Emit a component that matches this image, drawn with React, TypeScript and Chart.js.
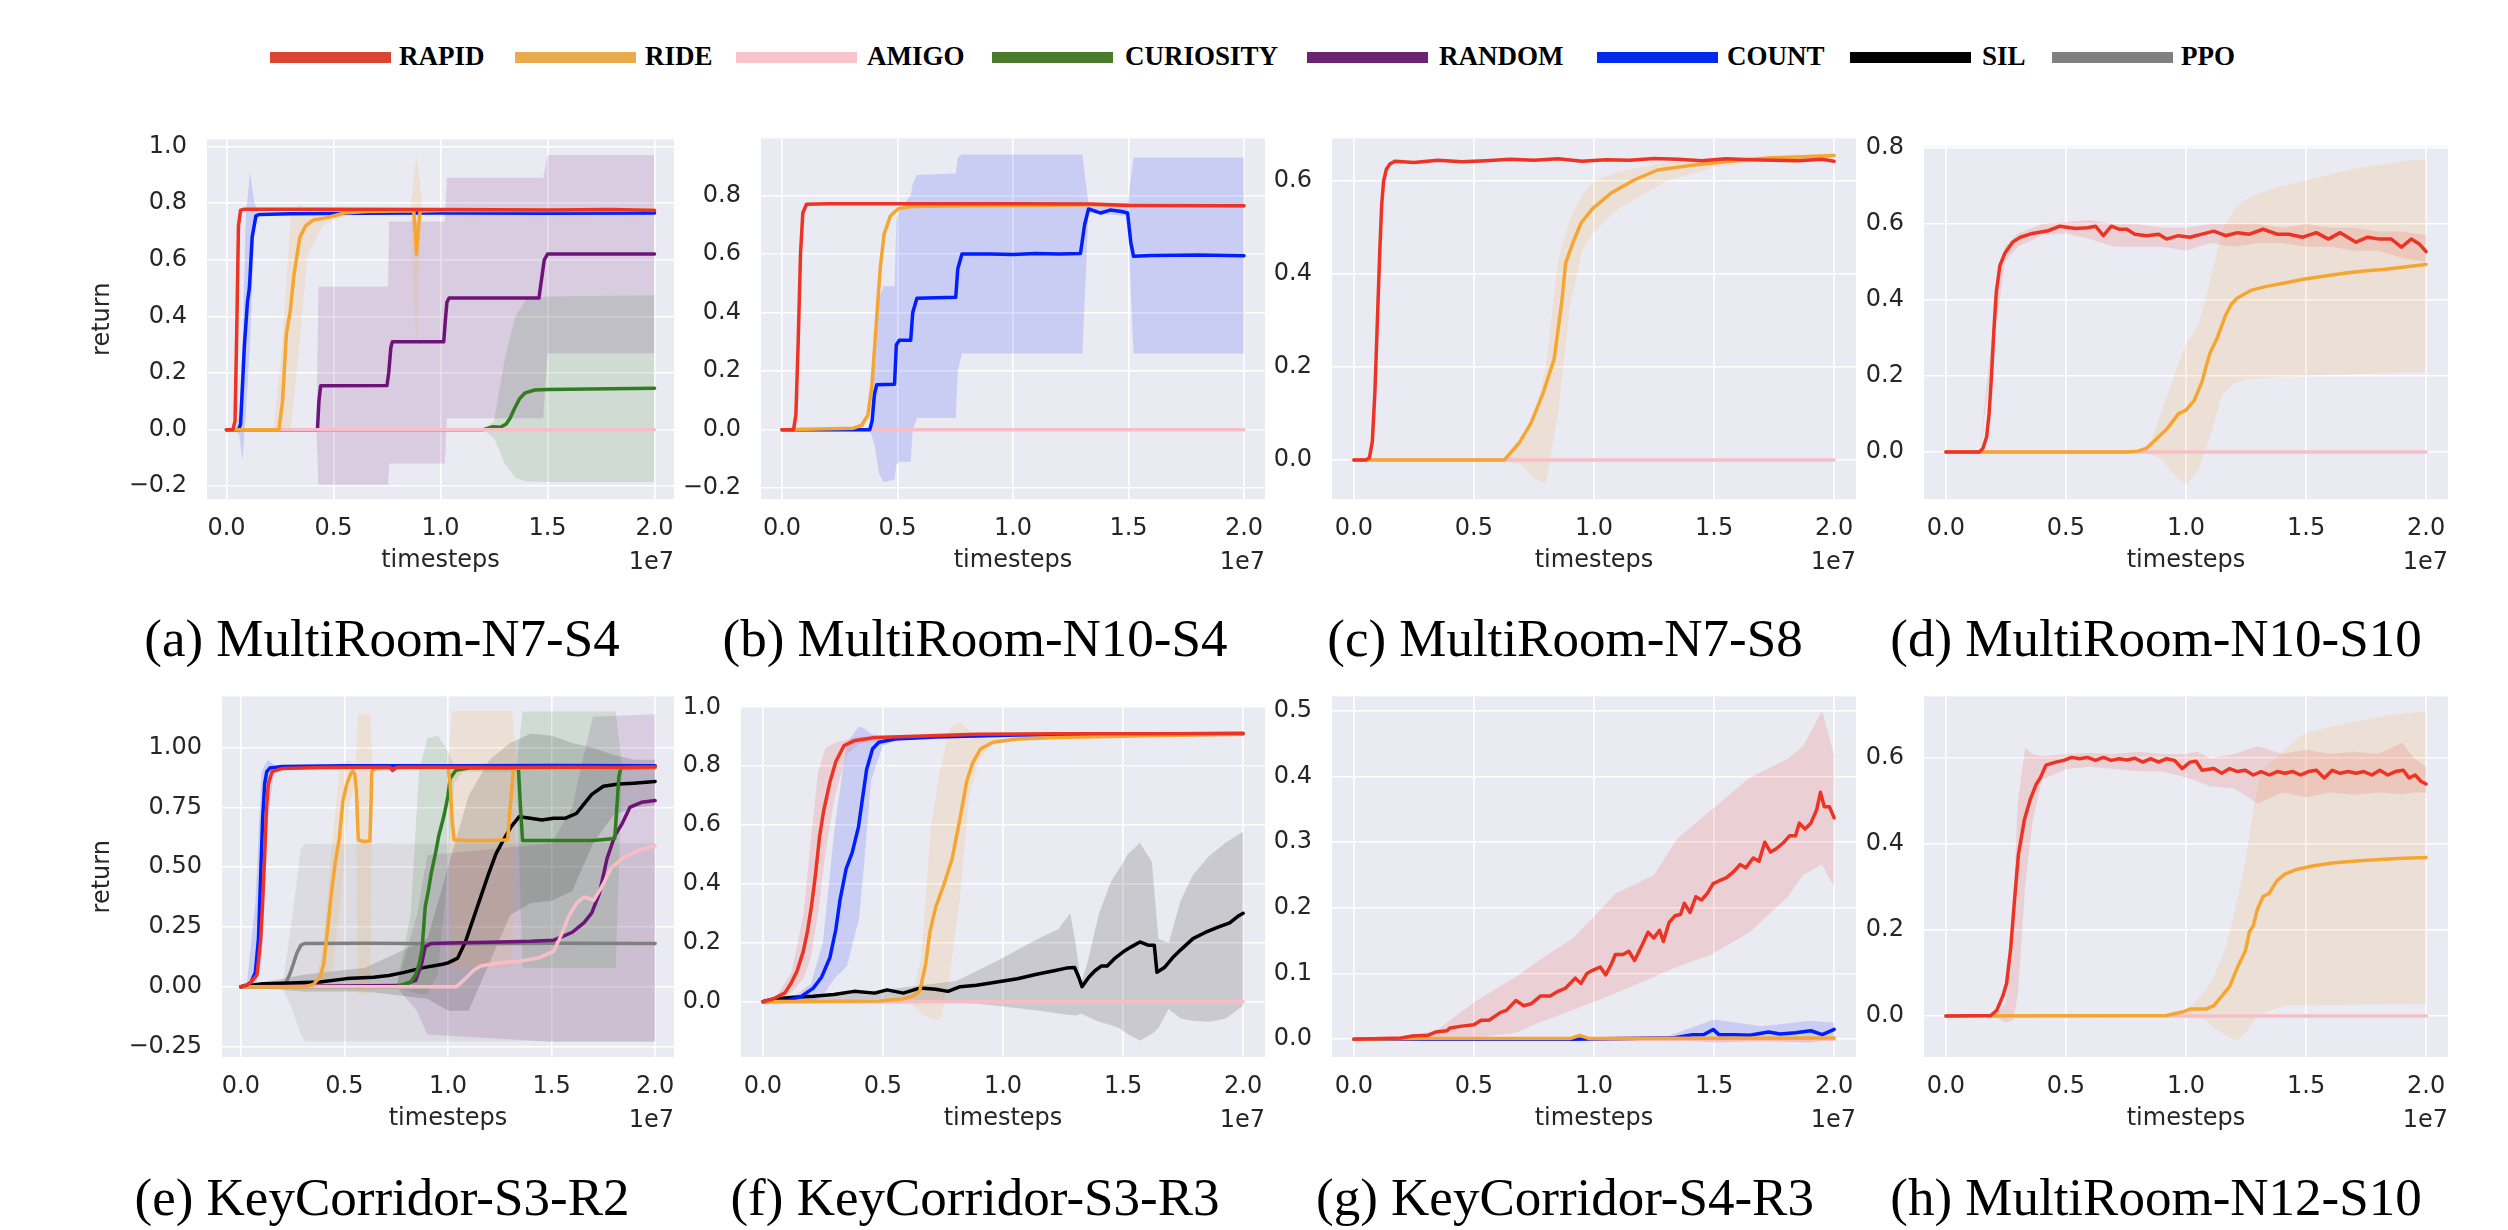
import React, { useEffect, useRef } from "react";
import { Chart, registerables } from "chart.js";

Chart.register(...registerables);

// ---------------- shared axis values ----------------
const xTicks = [0, 0.5, 1, 1.5, 2];
const xTickLabels = ["0.0", "0.5", "1.0", "1.5", "2.0"];
const X_MIN = -0.091;
const X_MAX = 2.091;

// ---------------- legend ----------------
const legendLabels = ["RAPID", "RIDE", "AMIGO", "CURIOSITY", "RANDOM", "COUNT", "SIL", "PPO"];
const legendColors = ["#DB4433", "#EAAA4E", "#F7C3CC", "#4B7A2F", "#6B2570", "#002BEA", "#000000", "#808080"];

const lineColors: Record<string, string> = {
  RAPID: "#ED3324",
  RIDE: "#F5A632",
  AMIGO: "#F8BEC8",
  CURIOSITY: "#2E7D1E",
  RANDOM: "#6E1478",
  COUNT: "#001EFF",
  SIL: "#000000",
  PPO: "#808080",
};

const zeroX = [0, 2.0];
const zeroY = [0, 0];

// ---------------- (a) MultiRoom-N7-S4 ----------------
const aYTicks = [-0.2, 0, 0.2, 0.4, 0.6, 0.8, 1.0];
const aYLabels = ["\u22120.2", "0.0", "0.2", "0.4", "0.6", "0.8", "1.0"];
const aRapidX = [0, 0.03, 0.04, 0.048, 0.056, 0.066, 0.08, 0.5, 1.0, 1.5, 1.8, 2.0];
const aRapidY = [0, 0, 0.03, 0.35, 0.72, 0.775, 0.778, 0.778, 0.777, 0.776, 0.777, 0.774];
const aCountX = [0, 0.057, 0.066, 0.084, 0.098, 0.107, 0.12, 0.1375, 0.155, 0.3, 0.6, 1.0, 1.5, 2.0];
const aCountY = [0, 0, 0.02, 0.3, 0.45, 0.5, 0.68, 0.755, 0.76, 0.762, 0.764, 0.765, 0.764, 0.765];
const aCountBandX = [0.04, 0.06, 0.075, 0.09, 0.11, 0.13, 0.15];
const aCountHi = [0, 0.05, 0.3, 0.75, 0.91, 0.8, 0.77];
const aCountLo = [0, -0.02, -0.11, 0.05, 0.3, 0.7, 0.76];
const aRideX = [0, 0.245, 0.262, 0.28, 0.298, 0.316, 0.343, 0.37, 0.405, 0.477, 0.55, 0.65, 0.8, 0.875, 0.882, 0.888, 0.895, 0.905, 1.0, 1.5, 2.0];
const aRideY = [0, 0, 0.1, 0.34, 0.42, 0.55, 0.68, 0.72, 0.74, 0.75, 0.765, 0.77, 0.772, 0.772, 0.7, 0.62, 0.7, 0.772, 0.774, 0.774, 0.775];
const aRideBandX = [0.22, 0.26, 0.3, 0.34, 0.38, 0.45, 0.55, 0.86, 0.875, 0.888, 0.9, 0.915];
const aRideHi = [0, 0.3, 0.75, 0.8, 0.77, 0.77, 0.78, 0.78, 0.9, 0.97, 0.9, 0.78];
const aRideLo = [0, -0.01, 0.0, 0.3, 0.62, 0.72, 0.755, 0.765, 0.5, 0.27, 0.6, 0.765];
const aRandomX = [0, 0.425, 0.432, 0.44, 0.75, 0.758, 0.768, 0.775, 1.015, 1.022, 1.03, 1.04, 1.46, 1.47, 1.485, 1.5, 2.0];
const aRandomY = [0, 0, 0.1, 0.155, 0.156, 0.2, 0.29, 0.31, 0.31, 0.38, 0.45, 0.465, 0.465, 0.52, 0.6, 0.62, 0.62];
const aRandomBandX = [0.42, 0.43, 0.755, 0.76, 1.02, 1.03, 1.48, 1.5, 2.0];
const aRandomHi = [0, 0.505, 0.505, 0.735, 0.735, 0.89, 0.89, 0.97, 0.97];
const aRandomLo = [0, -0.195, -0.195, -0.12, -0.12, 0.04, 0.04, 0.27, 0.27];
const aCurX = [0, 1.2, 1.245, 1.28, 1.307, 1.325, 1.343, 1.37, 1.396, 1.44, 1.5, 2.0];
const aCurY = [0, 0, 0.01, 0.008, 0.02, 0.04, 0.07, 0.11, 0.13, 0.14, 0.142, 0.146];
const aCurBandX = [1.2, 1.25, 1.3, 1.35, 1.4, 1.5, 2.0];
const aCurHi = [0, 0.03, 0.25, 0.4, 0.46, 0.47, 0.475];
const aCurLo = [0, -0.03, -0.12, -0.17, -0.183, -0.185, -0.185];

// ---------------- (b) MultiRoom-N10-S4 ----------------
const bYTicks = [-0.2, 0, 0.2, 0.4, 0.6, 0.8];
const bYLabels = ["\u22120.2", "0.0", "0.2", "0.4", "0.6", "0.8"];
const bRapidX = [0, 0.05, 0.06, 0.07, 0.08, 0.09, 0.106, 0.2, 0.5, 1.0, 1.34, 1.5, 2.0];
const bRapidY = [0, 0, 0.05, 0.3, 0.6, 0.74, 0.77, 0.772, 0.772, 0.772, 0.771, 0.766, 0.765];
const bRideX = [0, 0.31, 0.345, 0.372, 0.389, 0.407, 0.425, 0.442, 0.469, 0.504, 0.557, 0.8, 1.1, 1.34, 2.0];
const bRideY = [0, 0.005, 0.015, 0.05, 0.15, 0.35, 0.55, 0.668, 0.73, 0.755, 0.762, 0.765, 0.766, 0.768, 0.764];
const bCountX = [0, 0.38, 0.39, 0.4, 0.41, 0.487, 0.495, 0.508, 0.557, 0.566, 0.584, 0.752, 0.761, 0.779, 0.9, 1.0, 1.1, 1.2, 1.292, 1.31, 1.327, 1.38, 1.42, 1.47, 1.496, 1.51, 1.522, 1.6, 1.8, 2.0];
const bCountY = [0, 0, 0.03, 0.12, 0.153, 0.155, 0.29, 0.305, 0.305, 0.4, 0.449, 0.452, 0.55, 0.6, 0.6, 0.598, 0.602, 0.6, 0.602, 0.7, 0.754, 0.74, 0.75, 0.745, 0.74, 0.64, 0.592, 0.595, 0.597, 0.594];
const bCountBandX = [0.38, 0.4, 0.42, 0.44, 0.487, 0.495, 0.508, 0.557, 0.566, 0.584, 0.752, 0.761, 0.779, 1.3, 1.327, 1.496, 1.522, 2.0];
const bCountHi = [0, 0.2, 0.45, 0.49, 0.49, 0.72, 0.75, 0.8, 0.84, 0.87, 0.875, 0.93, 0.94, 0.94, 0.77, 0.77, 0.93, 0.93];
const bCountLo = [0, -0.05, -0.15, -0.18, -0.17, -0.12, -0.11, -0.11, 0.0, 0.04, 0.04, 0.2, 0.26, 0.26, 0.74, 0.73, 0.26, 0.26];

// ---------------- (c) MultiRoom-N7-S8 ----------------
const cYTicks = [0, 0.2, 0.4, 0.6];
const cYLabels = ["0.0", "0.2", "0.4", "0.6"];
const cRapidX = [0, 0.05, 0.065, 0.077, 0.088, 0.098, 0.108, 0.116, 0.124, 0.135, 0.15, 0.172, 0.25, 0.35, 0.45, 0.55, 0.65, 0.75, 0.85, 0.95, 1.05, 1.15, 1.25, 1.35, 1.45, 1.55, 1.65, 1.75, 1.85, 1.95, 2.0];
const cRapidY = [0, 0, 0.005, 0.04, 0.15, 0.3, 0.45, 0.55, 0.6, 0.625, 0.637, 0.643, 0.64, 0.645, 0.642, 0.644, 0.647, 0.645, 0.648, 0.643, 0.646, 0.645, 0.649, 0.647, 0.644, 0.648, 0.646, 0.645, 0.644, 0.647, 0.643];
const cRideX = [0, 0.627, 0.69, 0.738, 0.786, 0.834, 0.866, 0.882, 0.914, 0.946, 0.994, 1.073, 1.169, 1.265, 1.408, 1.568, 1.727, 1.85, 2.0];
const cRideY = [0, 0, 0.038, 0.08, 0.141, 0.217, 0.341, 0.424, 0.47, 0.51, 0.541, 0.575, 0.603, 0.624, 0.634, 0.643, 0.65, 0.652, 0.655];
const cRideBandX = [0.6, 0.65, 0.7, 0.75, 0.8, 0.85, 0.9, 0.95, 1.0, 1.1, 1.3, 1.5, 1.75, 2.0];
const cRideHi = [0, 0.01, 0.04, 0.09, 0.2, 0.43, 0.52, 0.57, 0.6, 0.62, 0.64, 0.65, 0.655, 0.66];
const cRideLo = [0, -0.005, -0.01, -0.04, -0.05, 0.1, 0.33, 0.45, 0.49, 0.54, 0.6, 0.63, 0.645, 0.65];

// ---------------- (d) MultiRoom-N10-S10 ----------------
const dYTicks = [0, 0.2, 0.4, 0.6, 0.8];
const dYLabels = ["0.0", "0.2", "0.4", "0.6", "0.8"];
const dRapidX = [0, 0.14, 0.155, 0.17, 0.18, 0.19, 0.2, 0.21, 0.225, 0.245, 0.278, 0.31, 0.36, 0.426, 0.475, 0.54, 0.59, 0.623, 0.656, 0.689, 0.721, 0.754, 0.787, 0.836, 0.886, 0.919, 0.968, 1.017, 1.067, 1.116, 1.165, 1.215, 1.264, 1.321, 1.379, 1.428, 1.486, 1.543, 1.593, 1.642, 1.708, 1.757, 1.806, 1.855, 1.897, 1.938, 1.97, 2.0];
const dRapidY = [0, 0, 0.01, 0.04, 0.1, 0.2, 0.32, 0.42, 0.49, 0.522, 0.552, 0.565, 0.575, 0.582, 0.594, 0.588, 0.59, 0.594, 0.569, 0.594, 0.586, 0.586, 0.573, 0.569, 0.573, 0.56, 0.569, 0.565, 0.573, 0.581, 0.569, 0.577, 0.573, 0.586, 0.573, 0.573, 0.565, 0.577, 0.56, 0.577, 0.552, 0.565, 0.56, 0.56, 0.539, 0.56, 0.548, 0.527];
const dRapidBandX = [0.14, 0.2, 0.245, 0.3, 0.4, 0.5, 0.6, 0.7, 0.8, 0.9, 1.0, 1.1, 1.2, 1.3, 1.4, 1.5, 1.6, 1.7, 1.8, 1.9, 2.0];
const dRapidHi = [0, 0.35, 0.54, 0.575, 0.6, 0.605, 0.61, 0.6, 0.6, 0.59, 0.59, 0.6, 0.6, 0.6, 0.59, 0.6, 0.59, 0.59, 0.58, 0.58, 0.57];
const dRapidLo = [0, 0.28, 0.5, 0.54, 0.57, 0.575, 0.56, 0.54, 0.54, 0.54, 0.53, 0.55, 0.54, 0.55, 0.55, 0.54, 0.54, 0.53, 0.53, 0.51, 0.5];
const dRideX = [0, 0.75, 0.8, 0.837, 0.87, 0.92, 0.95, 0.968, 1.0, 1.034, 1.067, 1.085, 1.1, 1.13, 1.165, 1.19, 1.214, 1.27, 1.33, 1.4, 1.494, 1.58, 1.658, 1.74, 1.82, 1.9, 2.0];
const dRideY = [0, 0, 0.002, 0.01, 0.03, 0.06, 0.085, 0.1, 0.11, 0.135, 0.185, 0.228, 0.26, 0.3, 0.36, 0.39, 0.405, 0.425, 0.435, 0.443, 0.455, 0.463, 0.47, 0.476, 0.48, 0.486, 0.493];
const dRideBandX = [0.75, 0.8, 0.85, 0.9, 0.95, 1.0, 1.05, 1.1, 1.15, 1.2, 1.25, 1.3, 1.4, 1.5, 1.6, 1.7, 1.8, 1.9, 2.0];
const dRideHi = [0, 0.0, 0.02, 0.11, 0.2, 0.285, 0.33, 0.45, 0.58, 0.64, 0.665, 0.68, 0.7, 0.715, 0.73, 0.745, 0.755, 0.765, 0.771];
const dRideLo = [0, 0, -0.005, -0.02, -0.06, -0.085, -0.05, 0.04, 0.15, 0.18, 0.19, 0.193, 0.198, 0.2, 0.203, 0.205, 0.207, 0.209, 0.21];

// ---------------- (e) KeyCorridor-S3-R2 ----------------
const eYTicks = [-0.25, 0, 0.25, 0.5, 0.75, 1.0];
const eYLabels = ["\u22120.25", "0.00", "0.25", "0.50", "0.75", "1.00"];
const eRapidX = [0, 0.03, 0.05, 0.078, 0.096, 0.105, 0.115, 0.124, 0.133, 0.151, 0.198, 0.4, 0.6, 0.72, 0.733, 0.75, 1.0, 1.3, 1.6, 1.8, 2.0];
const eRapidY = [0, 0.008, 0.02, 0.05, 0.2, 0.35, 0.55, 0.75, 0.85, 0.9, 0.913, 0.917, 0.918, 0.918, 0.905, 0.918, 0.918, 0.917, 0.918, 0.917, 0.92];
const eCountX = [0, 0.03, 0.05, 0.07, 0.085, 0.095, 0.105, 0.115, 0.125, 0.14, 0.2, 0.5, 1.0, 1.5, 2.0];
const eCountY = [0, 0.008, 0.02, 0.06, 0.2, 0.45, 0.7, 0.85, 0.9, 0.915, 0.922, 0.925, 0.925, 0.926, 0.925];
const eCountBandX = [0.03, 0.07, 0.1, 0.13, 0.16];
const eCountHi = [0.02, 0.35, 0.9, 0.95, 0.93];
const eCountLo = [0.0, 0.0, 0.1, 0.7, 0.9];
const eRideX = [0, 0.31, 0.35, 0.382, 0.4, 0.42, 0.438, 0.456, 0.475, 0.493, 0.512, 0.53, 0.54, 0.55, 0.558, 0.563, 0.567, 0.59, 0.623, 0.628, 0.632, 0.645, 0.7, 0.8, 1.0, 1.01, 1.02, 1.029, 1.1, 1.2, 1.288, 1.3, 1.315, 1.325, 1.5, 2.0];
const eRideY = [0, 0, 0.01, 0.04, 0.094, 0.25, 0.4, 0.52, 0.62, 0.78, 0.85, 0.89, 0.902, 0.89, 0.82, 0.7, 0.615, 0.608, 0.61, 0.75, 0.9, 0.912, 0.915, 0.917, 0.917, 0.85, 0.7, 0.615, 0.612, 0.612, 0.615, 0.75, 0.9, 0.915, 0.916, 0.917];
const eRideBandX = [0.36, 0.4, 0.44, 0.48, 0.52, 0.555, 0.565, 0.625, 0.635, 0.66, 1.0, 1.02, 1.31, 1.33, 2.0];
const eRideHi = [0, 0.2, 0.6, 0.93, 0.95, 0.93, 1.14, 1.14, 0.93, 0.92, 0.92, 1.154, 1.154, 0.925, 0.925];
const eRideLo = [0, -0.02, 0.05, 0.35, 0.75, 0.86, -0.03, -0.03, 0.88, 0.905, 0.91, 0.08, 0.08, 0.905, 0.91];
const eCurX = [0, 0.75, 0.79, 0.82, 0.844, 0.862, 0.875, 0.89, 0.905, 0.918, 0.94, 0.955, 0.97, 0.983, 1.0, 1.01, 1.038, 1.1, 1.2, 1.34, 1.35, 1.36, 1.5, 1.7, 1.805, 1.815, 1.825, 1.835, 2.0];
const eCurY = [0, 0, 0.01, 0.02, 0.05, 0.1, 0.16, 0.335, 0.4, 0.47, 0.56, 0.63, 0.68, 0.725, 0.8, 0.872, 0.906, 0.915, 0.916, 0.916, 0.75, 0.612, 0.612, 0.612, 0.62, 0.75, 0.88, 0.916, 0.917];
const eCurBandX = [0.75, 0.82, 0.86, 0.9, 0.95, 0.99, 1.03, 1.07, 1.33, 1.36, 1.81, 1.84, 2.0];
const eCurHi = [0, 0.3, 0.9, 1.04, 1.05, 1.0, 0.93, 0.92, 0.92, 1.152, 1.152, 0.925, 0.925];
const eCurLo = [0, -0.02, -0.03, -0.03, 0.05, 0.4, 0.85, 0.9, 0.9, 0.08, 0.08, 0.905, 0.91];
const eSilX = [0, 0.105, 0.235, 0.382, 0.512, 0.641, 0.715, 0.789, 0.881, 0.974, 1.0, 1.047, 1.084, 1.121, 1.158, 1.195, 1.232, 1.269, 1.306, 1.343, 1.398, 1.454, 1.51, 1.565, 1.62, 1.657, 1.694, 1.75, 1.823, 1.897, 2.0];
const eSilY = [0, 0.013, 0.016, 0.02, 0.034, 0.04, 0.047, 0.06, 0.08, 0.094, 0.1, 0.12, 0.188, 0.282, 0.376, 0.47, 0.557, 0.617, 0.671, 0.711, 0.705, 0.698, 0.705, 0.705, 0.725, 0.765, 0.805, 0.839, 0.848, 0.852, 0.859];
const eSilBandX = [0, 0.3, 0.6, 0.9, 1.0, 1.1, 1.2, 1.3, 1.4, 1.5, 1.6, 1.7, 1.8, 1.9, 2.0];
const eSilHi = [0, 0.05, 0.08, 0.2, 0.5, 0.8, 0.95, 1.02, 1.06, 1.05, 1.02, 1.0, 0.97, 0.95, 0.95];
const eSilLo = [0, -0.02, -0.02, -0.05, -0.1, -0.1, 0.1, 0.3, 0.35, 0.36, 0.4, 0.6, 0.72, 0.75, 0.76];
const ePpoX = [0, 0.2, 0.216, 0.235, 0.253, 0.27, 0.29, 0.31, 0.6, 1.0, 1.5, 2.0];
const ePpoY = [0, 0.0, 0.013, 0.05, 0.094, 0.14, 0.174, 0.181, 0.182, 0.18, 0.182, 0.181];
const ePpoBandX = [0.2, 0.25, 0.29, 0.31, 2.0];
const ePpoHi = [0, 0.3, 0.58, 0.597, 0.6];
const ePpoLo = [0, -0.1, -0.2, -0.228, -0.228];
const eRandomX = [0, 0.77, 0.844, 0.872, 0.89, 0.918, 1.0, 1.2, 1.4, 1.51, 1.546, 1.6, 1.657, 1.694, 1.73, 1.768, 1.805, 1.842, 1.879, 1.934, 2.0];
const eRandomY = [0, 0.005, 0.027, 0.094, 0.168, 0.181, 0.183, 0.186, 0.19, 0.195, 0.208, 0.228, 0.268, 0.309, 0.389, 0.537, 0.631, 0.685, 0.752, 0.772, 0.779];
const eRandomBandX = [0.75, 0.85, 0.9, 1.5, 1.6, 1.65, 1.7, 2.0];
const eRandomHi = [0, 0.3, 0.55, 0.6, 0.75, 0.95, 1.13, 1.14];
const eRandomLo = [0, -0.1, -0.2, -0.23, -0.23, -0.23, -0.23, -0.23];
const eAmigoX = [0, 1.04, 1.084, 1.121, 1.158, 1.25, 1.343, 1.435, 1.51, 1.546, 1.583, 1.62, 1.657, 1.703, 1.75, 1.787, 1.842, 1.916, 2.0];
const eAmigoY = [0, 0.0, 0.034, 0.067, 0.087, 0.1, 0.107, 0.12, 0.148, 0.215, 0.295, 0.349, 0.376, 0.362, 0.43, 0.497, 0.537, 0.57, 0.59];

// ---------------- (f) KeyCorridor-S3-R3 ----------------
const fYTicks = [0, 0.2, 0.4, 0.6, 0.8, 1.0];
const fYLabels = ["0.0", "0.2", "0.4", "0.6", "0.8", "1.0"];
const fRapidX = [0, 0.04, 0.092, 0.117, 0.143, 0.168, 0.185, 0.202, 0.219, 0.236, 0.253, 0.279, 0.304, 0.338, 0.38, 0.466, 0.636, 0.89, 1.23, 1.6, 2.0];
const fRapidY = [0, 0.008, 0.03, 0.062, 0.105, 0.17, 0.235, 0.322, 0.43, 0.56, 0.647, 0.745, 0.816, 0.87, 0.886, 0.897, 0.902, 0.908, 0.91, 0.91, 0.911];
const fRapidBandX = [0.05, 0.12, 0.17, 0.2, 0.23, 0.26, 0.3, 0.35, 0.4, 0.5];
const fRapidHi = [0.01, 0.1, 0.3, 0.55, 0.78, 0.86, 0.88, 0.89, 0.9, 0.9];
const fRapidLo = [0, 0.03, 0.08, 0.15, 0.3, 0.5, 0.7, 0.84, 0.875, 0.89];
const fCountX = [0, 0.109, 0.16, 0.21, 0.245, 0.279, 0.304, 0.321, 0.347, 0.372, 0.398, 0.415, 0.432, 0.457, 0.483, 0.55, 0.72, 1.06, 1.5, 2.0];
const fCountY = [0, 0.005, 0.018, 0.046, 0.084, 0.149, 0.246, 0.344, 0.452, 0.506, 0.593, 0.691, 0.789, 0.859, 0.881, 0.892, 0.899, 0.906, 0.909, 0.911];
const fCountBandX = [0.1, 0.2, 0.25, 0.3, 0.35, 0.4, 0.42, 0.45, 0.5, 0.55];
const fCountHi = [0.0, 0.06, 0.2, 0.6, 0.88, 0.935, 0.93, 0.91, 0.9, 0.9];
const fCountLo = [0.0, 0.0, 0.02, 0.08, 0.12, 0.28, 0.45, 0.75, 0.87, 0.885];
const fRideX = [0, 0.483, 0.585, 0.627, 0.653, 0.678, 0.695, 0.72, 0.754, 0.788, 0.822, 0.848, 0.873, 0.907, 0.958, 1.06, 1.23, 1.6, 2.0];
const fRideY = [0, 0.002, 0.01, 0.02, 0.035, 0.127, 0.235, 0.322, 0.398, 0.485, 0.626, 0.745, 0.81, 0.859, 0.881, 0.892, 0.897, 0.903, 0.908];
const fRideBandX = [0.55, 0.62, 0.66, 0.7, 0.74, 0.78, 0.82, 0.86, 0.9, 0.95, 1.0, 1.1];
const fRideHi = [0, 0.02, 0.15, 0.6, 0.8, 0.93, 0.95, 0.92, 0.9, 0.89, 0.895, 0.9];
const fRideLo = [0, -0.01, -0.04, -0.06, -0.06, 0.1, 0.35, 0.7, 0.82, 0.87, 0.885, 0.89];
const fSilX = [0, 0.04, 0.126, 0.21, 0.296, 0.38, 0.466, 0.517, 0.585, 0.653, 0.72, 0.771, 0.822, 0.89, 0.975, 1.06, 1.145, 1.213, 1.264, 1.298, 1.315, 1.329, 1.358, 1.383, 1.409, 1.434, 1.468, 1.502, 1.536, 1.57, 1.604, 1.63, 1.641, 1.672, 1.706, 1.74, 1.791, 1.842, 1.893, 1.944, 1.978, 2.0];
const fSilY = [0, 0.008, 0.015, 0.018, 0.024, 0.035, 0.029, 0.04, 0.029, 0.046, 0.042, 0.035, 0.051, 0.056, 0.067, 0.078, 0.094, 0.105, 0.114, 0.116, 0.084, 0.051, 0.084, 0.105, 0.121, 0.121, 0.149, 0.17, 0.187, 0.203, 0.192, 0.192, 0.1, 0.116, 0.149, 0.176, 0.214, 0.235, 0.252, 0.268, 0.29, 0.3];
const fSilBandX = [0, 0.5, 0.805, 0.975, 1.145, 1.23, 1.28, 1.306, 1.324, 1.35, 1.4, 1.451, 1.485, 1.519, 1.57, 1.62, 1.647, 1.69, 1.74, 1.791, 1.859, 1.927, 2.0];
const fSilHi = [0.01, 0.04, 0.07, 0.138, 0.214, 0.246, 0.3, 0.18, 0.06, 0.127, 0.3, 0.41, 0.452, 0.5, 0.54, 0.474, 0.214, 0.2, 0.344, 0.43, 0.496, 0.54, 0.577];
const fSilLo = [-0.01, 0.01, 0.0, -0.014, -0.03, -0.04, -0.045, -0.047, -0.04, -0.05, -0.068, -0.08, -0.09, -0.11, -0.133, -0.11, -0.09, -0.025, -0.057, -0.065, -0.068, -0.057, -0.014];

// ---------------- (g) KeyCorridor-S4-R3 ----------------
const gYTicks = [0, 0.1, 0.2, 0.3, 0.4, 0.5];
const gYLabels = ["0.0", "0.1", "0.2", "0.3", "0.4", "0.5"];
const gRapidX = [0, 0.196, 0.244, 0.308, 0.34, 0.388, 0.4, 0.45, 0.5, 0.53, 0.563, 0.611, 0.635, 0.675, 0.707, 0.738, 0.778, 0.818, 0.85, 0.882, 0.922, 0.946, 0.97, 0.994, 1.026, 1.049, 1.073, 1.089, 1.121, 1.145, 1.169, 1.201, 1.225, 1.249, 1.273, 1.289, 1.313, 1.337, 1.36, 1.376, 1.4, 1.424, 1.448, 1.472, 1.496, 1.52, 1.552, 1.584, 1.608, 1.632, 1.663, 1.687, 1.711, 1.735, 1.759, 1.791, 1.815, 1.839, 1.855, 1.879, 1.903, 1.927, 1.943, 1.959, 1.98, 2.0];
const gRapidY = [0, 0.002, 0.005, 0.006, 0.011, 0.013, 0.017, 0.02, 0.022, 0.029, 0.029, 0.041, 0.044, 0.059, 0.051, 0.054, 0.066, 0.066, 0.073, 0.078, 0.093, 0.085, 0.1, 0.105, 0.11, 0.098, 0.115, 0.129, 0.129, 0.134, 0.12, 0.144, 0.163, 0.154, 0.166, 0.149, 0.178, 0.188, 0.19, 0.207, 0.193, 0.217, 0.212, 0.222, 0.237, 0.241, 0.246, 0.256, 0.266, 0.261, 0.276, 0.271, 0.3, 0.285, 0.29, 0.3, 0.31, 0.31, 0.329, 0.32, 0.329, 0.349, 0.376, 0.354, 0.354, 0.337];
const gRapidBandX = [0.2, 0.35, 0.5, 0.675, 0.77, 0.914, 1.09, 1.25, 1.345, 1.488, 1.648, 1.807, 1.87, 1.95, 2.0];
const gRapidHi = [0, 0.015, 0.056, 0.095, 0.12, 0.154, 0.222, 0.25, 0.305, 0.349, 0.398, 0.427, 0.446, 0.5, 0.432];
const gRapidLo = [0, 0.0, 0.002, 0.01, 0.025, 0.045, 0.07, 0.095, 0.11, 0.129, 0.163, 0.217, 0.25, 0.266, 0.232];
const gCountX = [0, 0.9, 1.265, 1.33, 1.41, 1.456, 1.496, 1.52, 1.584, 1.648, 1.727, 1.775, 1.839, 1.903, 1.951, 2.0];
const gCountY = [0, 0.0, 0.002, 0.002, 0.007, 0.007, 0.015, 0.007, 0.007, 0.006, 0.011, 0.008, 0.01, 0.013, 0.007, 0.015];
const gCountBandX = [1.3, 1.5, 1.7, 1.9, 2.0];
const gCountHi = [0.004, 0.03, 0.02, 0.028, 0.025];
const gCountLo = [0, -0.005, -0.003, -0.005, 0.0];
const gRideX = [0, 0.3, 0.9, 0.94, 0.98, 2.0];
const gRideY = [0, 0.001, 0.001, 0.006, 0.001, 0.002];

// ---------------- (h) MultiRoom-N12-S10 ----------------
const hYTicks = [0, 0.2, 0.4, 0.6];
const hYLabels = ["0.0", "0.2", "0.4", "0.6"];
const hRapidX = [0, 0.187, 0.212, 0.237, 0.253, 0.27, 0.286, 0.302, 0.327, 0.352, 0.376, 0.393, 0.417, 0.458, 0.491, 0.524, 0.557, 0.59, 0.623, 0.656, 0.689, 0.721, 0.754, 0.787, 0.82, 0.853, 0.886, 0.919, 0.952, 0.984, 1.017, 1.042, 1.067, 1.116, 1.149, 1.182, 1.214, 1.247, 1.28, 1.313, 1.347, 1.38, 1.412, 1.445, 1.477, 1.51, 1.543, 1.576, 1.609, 1.642, 1.675, 1.708, 1.74, 1.774, 1.807, 1.84, 1.872, 1.905, 1.929, 1.954, 1.979, 2.0];
const hRapidY = [0, 0.001, 0.013, 0.046, 0.076, 0.158, 0.27, 0.375, 0.457, 0.505, 0.539, 0.554, 0.584, 0.591, 0.595, 0.602, 0.599, 0.602, 0.595, 0.602, 0.595, 0.599, 0.596, 0.6, 0.591, 0.599, 0.591, 0.599, 0.595, 0.576, 0.591, 0.593, 0.572, 0.576, 0.565, 0.576, 0.569, 0.572, 0.561, 0.569, 0.561, 0.569, 0.565, 0.569, 0.561, 0.569, 0.572, 0.554, 0.572, 0.565, 0.569, 0.565, 0.569, 0.561, 0.572, 0.561, 0.569, 0.572, 0.554, 0.561, 0.546, 0.54];
const hRapidBandX = [0.2, 0.25, 0.28, 0.3, 0.33, 0.36, 0.4, 0.5, 0.6, 0.7, 0.8, 0.9, 1.0, 1.05, 1.1, 1.2, 1.3, 1.4, 1.5, 1.6, 1.7, 1.8, 1.9, 1.95, 2.0];
const hRapidHi = [0.0, 0.03, 0.25, 0.5, 0.625, 0.61, 0.605, 0.61, 0.612, 0.61, 0.615, 0.61, 0.61, 0.615, 0.6, 0.61, 0.628, 0.61, 0.62, 0.61, 0.615, 0.61, 0.636, 0.6, 0.58];
const hRapidLo = [0.0, -0.015, -0.01, 0.05, 0.3, 0.45, 0.55, 0.575, 0.58, 0.575, 0.57, 0.57, 0.555, 0.546, 0.535, 0.53, 0.494, 0.52, 0.509, 0.52, 0.515, 0.52, 0.516, 0.52, 0.52];
const hRideX = [0, 0.919, 0.984, 1.017, 1.083, 1.116, 1.149, 1.182, 1.214, 1.247, 1.264, 1.28, 1.297, 1.321, 1.346, 1.379, 1.412, 1.461, 1.527, 1.609, 1.707, 1.823, 1.905, 2.0];
const hRideY = [0, 0.001, 0.009, 0.016, 0.016, 0.024, 0.046, 0.069, 0.113, 0.151, 0.196, 0.21, 0.248, 0.278, 0.285, 0.315, 0.33, 0.341, 0.349, 0.356, 0.361, 0.365, 0.367, 0.369];
const hRideBandX = [0.9, 1.0, 1.083, 1.116, 1.165, 1.214, 1.247, 1.28, 1.313, 1.41, 1.494, 1.658, 1.823, 2.0];
const hRideHi = [0, 0.01, 0.061, 0.09, 0.158, 0.27, 0.36, 0.479, 0.569, 0.62, 0.658, 0.68, 0.699, 0.71];
const hRideLo = [0, 0.0, -0.01, -0.028, -0.045, -0.058, -0.04, -0.013, 0.005, 0.024, 0.025, 0.026, 0.027, 0.028];

// ---------------- captions ----------------
const captions = [
  "(a) MultiRoom-N7-S4",
  "(b) MultiRoom-N10-S4",
  "(c) MultiRoom-N7-S8",
  "(d) MultiRoom-N10-S10",
  "(e) KeyCorridor-S3-R2",
  "(f) KeyCorridor-S3-R3",
  "(g) KeyCorridor-S4-R3",
  "(h) MultiRoom-N12-S10",
];

// ---------------- styling / layout ----------------
const FONT = "'DejaVu Sans', 'Noto Sans', sans-serif";
const SERIF = "'Liberation Serif', 'Times New Roman', serif";
const TICK = "#262626";
const BG = "#EAEAF2";
const PT = 20;
const PR = 40;
const XH = 76;
const BAND_ALPHA = 0.14;
const LINE_W = 3.5;

Chart.defaults.font.family = FONT;

function pts(xs: number[], ys: number[]) {
  return xs.map((x, i) => ({ x, y: ys[i] }));
}
function rgba(hex: string, a: number) {
  const n = parseInt(hex.slice(1), 16);
  return `rgba(${(n >> 16) & 255},${(n >> 8) & 255},${n & 255},${a})`;
}
function line(name: string, xs: number[], ys: number[]) {
  return {
    label: name,
    data: pts(xs, ys),
    borderColor: lineColors[name],
    backgroundColor: lineColors[name],
    borderWidth: LINE_W,
    pointRadius: 0,
    fill: false,
    tension: 0,
    borderJoinStyle: "round",
    borderCapStyle: "round",
  };
}
function band(name: string, xs: number[], lo: number[], hi: number[]) {
  return [
    {
      label: name + " upper",
      data: pts(xs, hi),
      borderColor: "transparent",
      borderWidth: 0,
      pointRadius: 0,
      tension: 0,
      fill: "+1",
      backgroundColor: rgba(lineColors[name], BAND_ALPHA),
    },
    {
      label: name + " lower",
      data: pts(xs, lo),
      borderColor: "transparent",
      borderWidth: 0,
      pointRadius: 0,
      tension: 0,
      fill: false,
    },
  ];
}

type PanelCfg = {
  box: number[]; // chart-area left, top, right, bottom
  yw: number;
  yMin: number;
  yMax: number;
  yTicks: number[];
  yLabels: string[];
  yTitle?: string;
  datasets: () => any[];
};

const panels: PanelCfg[] = [
  {
    box: [207, 125, 674, 499], yw: 119, yMin: -0.245, yMax: 1.025, yTicks: aYTicks, yLabels: aYLabels, yTitle: "return",
    datasets: () => [
      line("RAPID", aRapidX, aRapidY),
      line("RIDE", aRideX, aRideY),
      line("COUNT", aCountX, aCountY),
      line("AMIGO", zeroX, zeroY),
      line("CURIOSITY", aCurX, aCurY),
      line("RANDOM", aRandomX, aRandomY),
      ...band("COUNT", aCountBandX, aCountLo, aCountHi),
      ...band("RIDE", aRideBandX, aRideLo, aRideHi),
      ...band("RANDOM", aRandomBandX, aRandomLo, aRandomHi),
      ...band("CURIOSITY", aCurBandX, aCurLo, aCurHi),
    ],
  },
  {
    box: [761, 124, 1265, 499], yw: 100, yMin: -0.237, yMax: 0.995, yTicks: bYTicks, yLabels: bYLabels,
    datasets: () => [
      line("RAPID", bRapidX, bRapidY),
      line("RIDE", bRideX, bRideY),
      line("COUNT", bCountX, bCountY),
      line("AMIGO", zeroX, zeroY),
      ...band("COUNT", bCountBandX, bCountLo, bCountHi),
    ],
  },
  {
    box: [1332, 124, 1856, 499], yw: 100, yMin: -0.084, yMax: 0.692, yTicks: cYTicks, yLabels: cYLabels,
    datasets: () => [
      line("RAPID", cRapidX, cRapidY),
      line("RIDE", cRideX, cRideY),
      line("AMIGO", zeroX, zeroY),
      ...band("RIDE", cRideBandX, cRideLo, cRideHi),
    ],
  },
  {
    box: [1924, 132, 2448, 499], yw: 100, yMin: -0.124, yMax: 0.804, yTicks: dYTicks, yLabels: dYLabels,
    datasets: () => [
      line("RAPID", dRapidX, dRapidY),
      line("RIDE", dRideX, dRideY),
      line("AMIGO", zeroX, zeroY),
      ...band("RAPID", dRapidBandX, dRapidLo, dRapidHi),
      ...band("RIDE", dRideBandX, dRideLo, dRideHi),
    ],
  },
  {
    box: [222, 682, 674, 1057], yw: 134, yMin: -0.294, yMax: 1.215, yTicks: eYTicks, yLabels: eYLabels, yTitle: "return",
    datasets: () => [
      line("RAPID", eRapidX, eRapidY),
      line("COUNT", eCountX, eCountY),
      line("RIDE", eRideX, eRideY),
      line("AMIGO", eAmigoX, eAmigoY),
      line("CURIOSITY", eCurX, eCurY),
      line("RANDOM", eRandomX, eRandomY),
      line("SIL", eSilX, eSilY),
      line("PPO", ePpoX, ePpoY),
      ...band("COUNT", eCountBandX, eCountLo, eCountHi),
      ...band("RIDE", eRideBandX, eRideLo, eRideHi),
      ...band("CURIOSITY", eCurBandX, eCurLo, eCurHi),
      ...band("SIL", eSilBandX, eSilLo, eSilHi),
      ...band("RANDOM", eRandomBandX, eRandomLo, eRandomHi),
      ...band("PPO", ePpoBandX, ePpoLo, ePpoHi),
    ],
  },
  {
    box: [741, 692, 1265, 1057], yw: 100, yMin: -0.188, yMax: 1.003, yTicks: fYTicks, yLabels: fYLabels,
    datasets: () => [
      line("RAPID", fRapidX, fRapidY),
      line("RIDE", fRideX, fRideY),
      line("COUNT", fCountX, fCountY),
      line("AMIGO", zeroX, zeroY),
      line("SIL", fSilX, fSilY),
      ...band("RAPID", fRapidBandX, fRapidLo, fRapidHi),
      ...band("COUNT", fCountBandX, fCountLo, fCountHi),
      ...band("RIDE", fRideBandX, fRideLo, fRideHi),
      ...band("SIL", fSilBandX, fSilLo, fSilHi),
    ],
  },
  {
    box: [1332, 682, 1856, 1057], yw: 100, yMin: -0.027, yMax: 0.522, yTicks: gYTicks, yLabels: gYLabels,
    datasets: () => [
      line("RAPID", gRapidX, gRapidY),
      line("RIDE", gRideX, gRideY),
      line("COUNT", gCountX, gCountY),
      line("AMIGO", zeroX, zeroY),
      ...band("RAPID", gRapidBandX, gRapidLo, gRapidHi),
      ...band("COUNT", gCountBandX, gCountLo, gCountHi),
    ],
  },
  {
    box: [1924, 682, 2448, 1057], yw: 100, yMin: -0.0956, yMax: 0.744, yTicks: hYTicks, yLabels: hYLabels,
    datasets: () => [
      line("RAPID", hRapidX, hRapidY),
      line("RIDE", hRideX, hRideY),
      line("AMIGO", zeroX, zeroY),
      ...band("RAPID", hRapidBandX, hRapidLo, hRapidHi),
      ...band("RIDE", hRideBandX, hRideLo, hRideHi),
    ],
  },
];

const captionCenters = [382, 975, 1565, 2156, 382, 975, 1565, 2156];
const captionBaselines = [656, 656, 656, 656, 1215, 1215, 1215, 1215];
const legendBarLefts = [270, 515, 736, 992, 1307, 1597, 1850, 2052];
const legendTextLefts = [399, 645, 867, 1125, 1439, 1727, 1982, 2181];

const bgPlugin = {
  id: "areaBg",
  beforeDraw(chart: any) {
    const { ctx, chartArea } = chart;
    ctx.save();
    ctx.fillStyle = BG;
    ctx.fillRect(chartArea.left, chartArea.top, chartArea.right - chartArea.left, chartArea.bottom - chartArea.top);
    ctx.restore();
  },
};

const offsetTextPlugin = {
  id: "offsetText",
  afterDraw(chart: any) {
    const { ctx, chartArea } = chart;
    ctx.save();
    ctx.font = `24px ${FONT}`;
    ctx.fillStyle = TICK;
    ctx.textAlign = "right";
    ctx.textBaseline = "alphabetic";
    ctx.fillText("1e7", chartArea.right, chartArea.bottom + 70);
    ctx.restore();
  },
};

function Panel({ cfg }: { cfg: PanelCfg }) {
  const ref = useRef<HTMLCanvasElement>(null);
  const [L, T, R, B] = cfg.box;
  const left = L - cfg.yw;
  const top = T - PT;
  const width = cfg.yw + (R - L) + PR;
  const height = PT + (B - T) + XH;

  useEffect(() => {
    const tickFont = { size: 24, family: FONT };
    const chart = new Chart(ref.current as HTMLCanvasElement, {
      type: "line",
      data: { datasets: cfg.datasets() },
      options: {
        animation: false,
        responsive: false,
        maintainAspectRatio: false,
        devicePixelRatio: 1,
        events: [],
        layout: { padding: { top: PT, right: PR, left: 0, bottom: 0 } },
        plugins: { legend: { display: false }, tooltip: { enabled: false } },
        scales: {
          x: {
            type: "linear",
            min: X_MIN,
            max: X_MAX,
            bounds: "data",
            afterBuildTicks: (s: any) => {
              s.ticks = xTicks.map((v) => ({ value: v }));
            },
            afterFit: (s: any) => {
              s.height = XH;
            },
            ticks: {
              autoSkip: false,
              maxRotation: 0,
              minRotation: 0,
              padding: 15,
              color: TICK,
              font: tickFont,
              callback: (_v: any, i: number) => xTickLabels[i],
            },
            grid: { color: "#FFFFFF", lineWidth: 1.6, drawTicks: false },
            border: { display: false },
            title: { display: true, text: "timesteps", color: TICK, font: tickFont, padding: 0 },
          },
          y: {
            type: "linear",
            min: cfg.yMin,
            max: cfg.yMax,
            bounds: "data",
            afterBuildTicks: (s: any) => {
              s.ticks = cfg.yTicks.map((v) => ({ value: v }));
            },
            afterFit: (s: any) => {
              s.width = cfg.yw;
            },
            ticks: {
              autoSkip: false,
              padding: 20,
              color: TICK,
              font: tickFont,
              callback: (_v: any, i: number) => cfg.yLabels[i],
            },
            grid: { color: "#FFFFFF", lineWidth: 1.6, drawTicks: false },
            border: { display: false },
            title: { display: !!cfg.yTitle, text: cfg.yTitle || "", color: TICK, font: tickFont, padding: 0 },
          },
        },
      } as any,
      plugins: [bgPlugin, offsetTextPlugin],
    });
    return () => chart.destroy();
  }, []);

  return (
    <canvas
      ref={ref}
      width={width}
      height={height}
      style={{ position: "absolute", left, top, width, height }}
    />
  );
}

export default function App() {
  return (
    <div
      style={{
        position: "absolute",
        left: 0,
        top: 0,
        width: 2508,
        height: 1230,
        background: "#FFFFFF",
        overflow: "hidden",
      }}
    >
      {legendLabels.map((name, i) => (
        <React.Fragment key={name}>
          <div
            style={{
              position: "absolute",
              left: legendBarLefts[i],
              top: 52,
              width: 121,
              height: 11,
              background: legendColors[i],
            }}
          />
          <div
            style={{
              position: "absolute",
              left: legendTextLefts[i],
              top: 43,
              fontFamily: SERIF,
              fontWeight: "bold",
              fontSize: 27,
              lineHeight: "27px",
              color: "#000",
              whiteSpace: "nowrap",
            }}
          >
            {name}
          </div>
        </React.Fragment>
      ))}
      {panels.map((p, i) => (
        <Panel key={i} cfg={p} />
      ))}
      {captions.map((c, i) => (
        <div
          key={c}
          style={{
            position: "absolute",
            left: captionCenters[i] - 400,
            width: 800,
            top: captionBaselines[i] - 44,
            textAlign: "center",
            fontFamily: SERIF,
            fontSize: 53,
            lineHeight: "53px",
            color: "#000",
            whiteSpace: "nowrap",
          }}
        >
          {c}
        </div>
      ))}
    </div>
  );
}
